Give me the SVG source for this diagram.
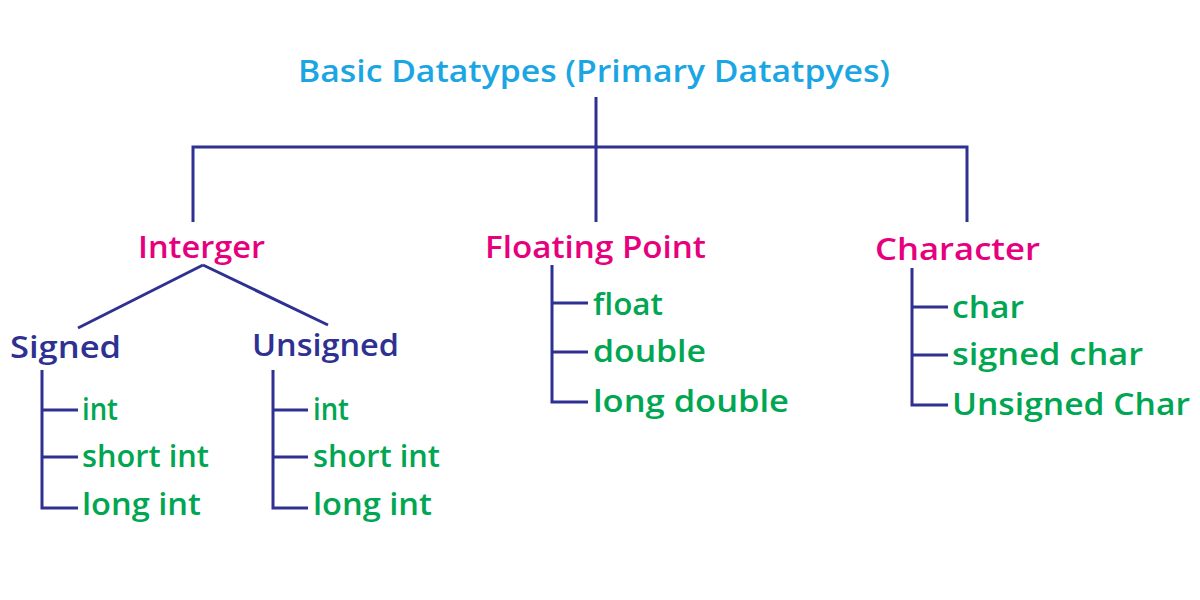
<svg xmlns="http://www.w3.org/2000/svg" width="1200" height="600" viewBox="0 0 1200 600">
<style>
text{font-family:"Open Sans","Liberation Sans",sans-serif;font-size:30px;font-weight:600}
.t{fill:#1ba6e3}.c{fill:#e6007e}.s{fill:#2e3192}.g{fill:#00a651}
.ln{stroke:#2e3192;stroke-width:3;fill:none}
</style>
<rect width="1200" height="600" fill="#fff"/>
<g id="connectors" class="ln">
<path d="M596 97V222M193 222V147H967V222"/>
<path d="M203 265L78 328M203 265L328 325"/>
<path d="M42 370V508H78M42 410H78M42 457H78"/>
<path d="M273 370V508H308M273 410H308M273 457H308"/>
<path d="M552 265V402H588M552 303H588M552 352H588"/>
<path d="M912 268V405H948M912 307H948M912 355H948"/>
</g>
<g id="root"><text class="t" x="298" y="82" textLength="592" lengthAdjust="spacingAndGlyphs">Basic Datatypes (Primary Datatpyes)</text></g>
<g id="integer"><text class="c" x="138" y="258" textLength="127" lengthAdjust="spacingAndGlyphs">Interger</text></g>
<g id="floating"><text class="c" x="485" y="258" textLength="221" lengthAdjust="spacingAndGlyphs">Floating Point</text></g>
<g id="character"><text class="c" x="875" y="260" textLength="165" lengthAdjust="spacingAndGlyphs">Character</text></g>
<g id="signed"><text class="s" x="10" y="358" textLength="111" lengthAdjust="spacingAndGlyphs">Signed</text></g>
<g id="unsigned"><text class="s" x="252" y="356" textLength="147" lengthAdjust="spacingAndGlyphs">Unsigned</text></g>
<g id="s-items">
<text class="g" x="82" y="420" textLength="36" lengthAdjust="spacingAndGlyphs">int</text>
<text class="g" x="82" y="467" textLength="127" lengthAdjust="spacingAndGlyphs">short int</text>
<text class="g" x="82" y="515" textLength="119" lengthAdjust="spacingAndGlyphs">long int</text>
</g>
<g id="u-items">
<text class="g" x="313" y="420" textLength="36" lengthAdjust="spacingAndGlyphs">int</text>
<text class="g" x="313" y="467" textLength="127" lengthAdjust="spacingAndGlyphs">short int</text>
<text class="g" x="313" y="515" textLength="119" lengthAdjust="spacingAndGlyphs">long int</text>
</g>
<g id="f-items">
<text class="g" x="593" y="315" textLength="70" lengthAdjust="spacingAndGlyphs">float</text>
<text class="g" x="593" y="362" textLength="113" lengthAdjust="spacingAndGlyphs">double</text>
<text class="g" x="593" y="412" textLength="196" lengthAdjust="spacingAndGlyphs">long double</text>
</g>
<g id="c-items">
<text class="g" x="952" y="318" textLength="72" lengthAdjust="spacingAndGlyphs">char</text>
<text class="g" x="952" y="365" textLength="191" lengthAdjust="spacingAndGlyphs">signed char</text>
<text class="g" x="952" y="415" textLength="238" lengthAdjust="spacingAndGlyphs">Unsigned Char</text>
</g>
</svg>
